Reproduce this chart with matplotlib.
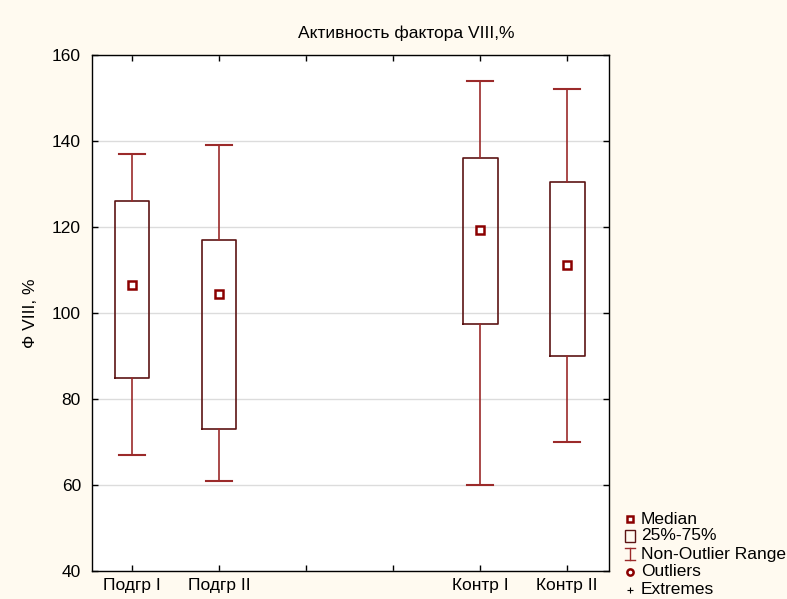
import matplotlib
matplotlib.use("Agg")
import matplotlib.pyplot as plt
from matplotlib.patches import Rectangle
from matplotlib.lines import Line2D

categories = ["Подгр I", "Подгр II", "", "", "Контр I", "Контр II"]
positions = [1, 2, 5, 6]
labels = ["Подгр I", "Подгр II", "Контр I", "Контр II"]
medians = [106.6, 104.4, 119.3, 111.2]
q1 = [85.0, 73.0, 97.5, 90.0]
q3 = [126.0, 117.0, 136.0, 130.4]
wlo = [67.0, 61.0, 60.0, 70.0]
whi = [137.0, 139.0, 154.0, 152.0]

plt.rcParams['font.family'] = ['Liberation Sans', 'DejaVu Sans']

bg = '#fffaf0'
box_col = '#5c1414'
wh_col = '#9b2a2a'
med_col = '#8b0000'
FS = 12.5

fig = plt.figure(figsize=(7.87, 5.99), dpi=100, facecolor=bg)
ax = fig.add_axes([92/787, 1-571/599, (609-92)/787, (571-55)/599])
ax.set_facecolor('white')

stats = []
for i in range(len(positions)):
    stats.append(dict(med=medians[i], q1=q1[i], q3=q3[i], whislo=wlo[i], whishi=whi[i], fliers=[]))

ax.bxp(stats, positions=positions, widths=0.4, showfliers=False,
       boxprops=dict(color=box_col, linewidth=1.2),
       whiskerprops=dict(color=wh_col, linewidth=1.2),
       capprops=dict(color=wh_col, linewidth=1.5),
       medianprops=dict(linewidth=0), capwidths=0.3, zorder=3)
ax.plot(positions, medians, linestyle='none', marker='s', markersize=5.5,
        markerfacecolor='white', markeredgecolor=med_col, markeredgewidth=1.8, zorder=4)

ax.set_xlim(0.54, 6.48)
ax.set_ylim(40, 160)
ax.set_xticks(range(1, 7))
ax.set_xticklabels(categories, fontsize=FS)
ax.set_yticks(range(40, 161, 20))
ax.tick_params(axis='both', direction='in', length=4, width=1, top=True, right=True, labelsize=FS, colors='black')
ax.tick_params(axis='x', pad=5)
ax.tick_params(axis='y', pad=8)
ax.grid(axis='y', color='#dcdcdc', linewidth=1, zorder=0)
ax.set_axisbelow(True)
for s in ax.spines.values():
    s.set_color('black')
    s.set_linewidth(1)

ax.set_ylabel("Ф VIII, %", fontsize=FS, labelpad=10)
fig.text(406/787, 1-33/599, "Активность фактора VIII,%", ha='center', va='center', fontsize=FS)

# legend (manual, figure coordinates)
W, H = 787, 599
def fx(x): return x/W
def fy(y): return 1-y/H
ys = [519, 536, 554, 572, 590]
texts = ["Median", "25%-75%", "Non-Outlier Range", "Outliers", "Extremes"]
xm = 630
fig.add_artist(Line2D([fx(xm)], [fy(ys[0])], marker='s', markersize=4.5, markerfacecolor='white',
                      markeredgecolor=med_col, markeredgewidth=1.8, linestyle='none', transform=fig.transFigure))
fig.add_artist(Rectangle((fx(xm-5), fy(ys[1]+6)), 10/W, 12/H, fill=False, edgecolor=box_col,
                         linewidth=1, transform=fig.transFigure))
fig.add_artist(Line2D([fx(xm), fx(xm)], [fy(ys[2]-6), fy(ys[2]+6)], color=wh_col, linewidth=1, transform=fig.transFigure))
fig.add_artist(Line2D([fx(xm-5), fx(xm+5)], [fy(ys[2]-6), fy(ys[2]-6)], color=wh_col, linewidth=1, transform=fig.transFigure))
fig.add_artist(Line2D([fx(xm-5), fx(xm+5)], [fy(ys[2]+6), fy(ys[2]+6)], color=wh_col, linewidth=1, transform=fig.transFigure))
fig.add_artist(Line2D([fx(xm)], [fy(ys[3])], marker='o', markersize=4.5, markerfacecolor='white',
                      markeredgecolor=med_col, markeredgewidth=1.8, linestyle='none', transform=fig.transFigure))
fig.add_artist(Line2D([fx(xm)], [fy(ys[4])], marker='+', markersize=4, color='black',
                      markeredgewidth=0.8, linestyle='none', transform=fig.transFigure))
for y, t in zip(ys, texts):
    fig.text(fx(641), fy(y), t, ha='left', va='center', fontsize=FS)

fig.savefig("out.png", dpi=100, facecolor=bg)
